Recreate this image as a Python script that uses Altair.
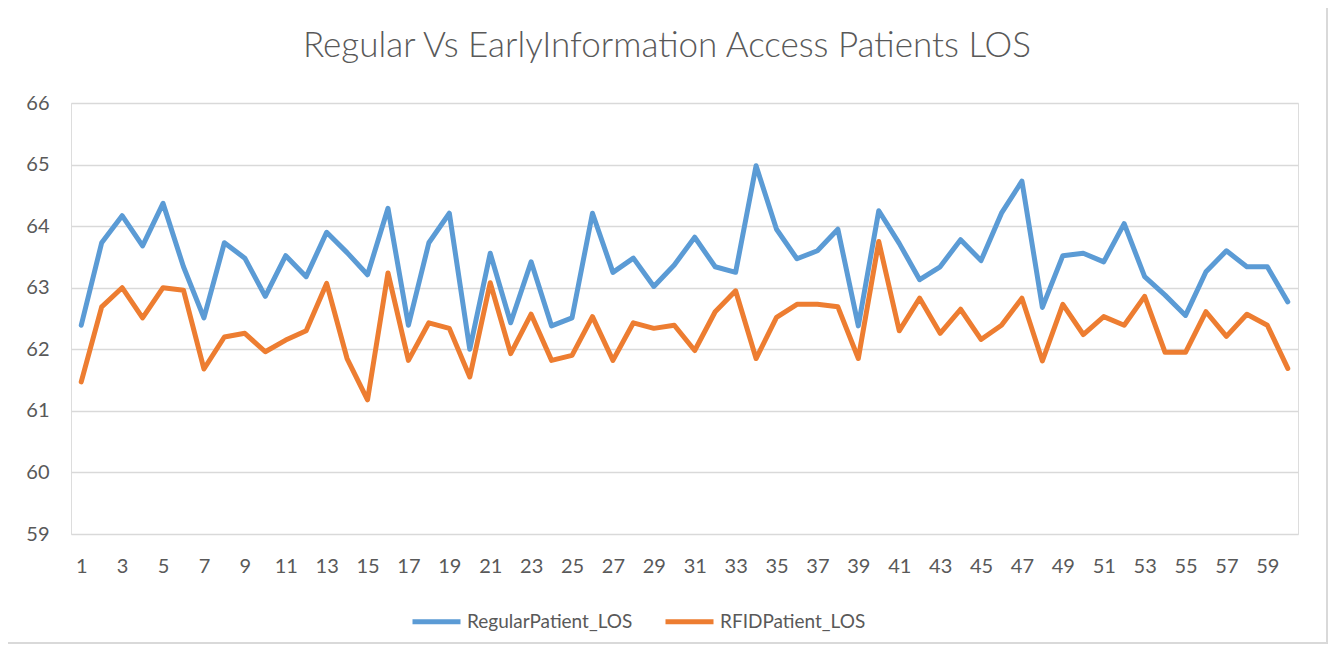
import altair as alt
import pandas as pd

patients = list(range(1, 61))

regular_los = [
    62.39, 63.73, 64.17, 63.68, 64.37, 63.34, 62.51, 63.73, 63.48, 62.86,
    63.52, 63.18, 63.90, 63.57, 63.21, 64.29, 62.39, 63.73, 64.21, 62.00,
    63.56, 62.43, 63.42, 62.38, 62.51, 64.21, 63.25, 63.48, 63.02, 63.37,
    63.82, 63.34, 63.25, 64.98, 63.95, 63.47, 63.60, 63.95, 62.38, 64.25,
    63.72, 63.13, 63.34, 63.78, 63.44, 64.21, 64.73, 62.68, 63.52, 63.56,
    63.42, 64.04, 63.18, 62.88, 62.55, 63.26, 63.60, 63.34, 63.34, 62.77,
]

rfid_los = [
    61.47, 62.69, 63.00, 62.51, 63.00, 62.96, 61.68, 62.20, 62.26, 61.96,
    62.15, 62.30, 63.07, 61.85, 61.18, 63.24, 61.82, 62.43, 62.34, 61.55,
    63.08, 61.93, 62.57, 61.82, 61.90, 62.53, 61.82, 62.43, 62.34, 62.39,
    61.98, 62.61, 62.95, 61.85, 62.52, 62.73, 62.73, 62.69, 61.85, 63.75,
    62.30, 62.83, 62.26, 62.65, 62.16, 62.39, 62.83, 61.81, 62.73, 62.24,
    62.53, 62.39, 62.86, 61.95, 61.95, 62.61, 62.21, 62.57, 62.39, 61.69,
]

series_names = ["RegularPatient_LOS", "RFIDPatient_LOS"]
series_colors = ["#5B9BD5", "#ED7D31"]
x_tick_labels = list(range(1, 60, 2))
y_ticks = [59, 60, 61, 62, 63, 64, 65, 66]
chart_title = "Regular Vs EarlyInformation Access Patients LOS"

df = pd.DataFrame({
    "patient": patients * 2,
    "los": regular_los + rfid_los,
    "series": [series_names[0]] * 60 + [series_names[1]] * 60,
})

FONT = "Lato"
GREY = "#595959"

lines = alt.Chart(df).mark_line(strokeWidth=5, strokeCap="round", strokeJoin="round").encode(
    x=alt.X("patient:Q",
            scale=alt.Scale(domain=[0.5, 60.5], nice=False, zero=False),
            axis=alt.Axis(values=x_tick_labels, title=None, grid=False, domain=False,
                          ticks=False, labelPadding=22, labelFontSize=20,
                          labelColor=GREY, labelFont=FONT)),
    y=alt.Y("los:Q",
            scale=alt.Scale(domain=[59, 66], nice=False, zero=False),
            axis=alt.Axis(values=y_ticks, title=None, grid=True, gridColor="#D9D9D9",
                          gridWidth=1.5, domain=False, ticks=False, labelPadding=22,
                          labelFontSize=20, labelColor=GREY, labelFont=FONT)),
    color=alt.Color("series:N",
                    scale=alt.Scale(domain=series_names, range=series_colors),
                    sort=series_names,
                    legend=alt.Legend(title=None, orient="none", direction="horizontal",
                                      legendX=339, legendY=492,
                                      symbolType="stroke", symbolSize=2304,
                                      symbolStrokeWidth=5, labelFontSize=19,
                                      labelColor=GREY, labelFont=FONT, labelOffset=4,
                                      labelLimit=400, columnPadding=22)),
    detail="series:N",
)

border = alt.Chart(df).mark_rect(filled=False, stroke="#D9D9D9", strokeWidth=1.5).encode(
    x=alt.value(-64), x2=alt.value(1256), y=alt.value(-97), y2=alt.value(540)
)

title_text = alt.Chart(pd.DataFrame({"t": [chart_title]})).mark_text(
    font=FONT, fontSize=35, fontWeight=300, color=GREY, align="center", baseline="alphabetic"
).encode(text="t:N", x=alt.value(596), y=alt.value(-46))

chart = alt.layer(border, lines, title_text).properties(
    width=1227,
    height=431,
    autosize=alt.AutoSizeParams(type="none"),
    padding={"left": 63, "top": 95, "right": 30, "bottom": 110},
).configure_view(stroke=None).configure(background="white")

chart.save("out.html", embed_options={"renderer": "svg", "actions": False})
